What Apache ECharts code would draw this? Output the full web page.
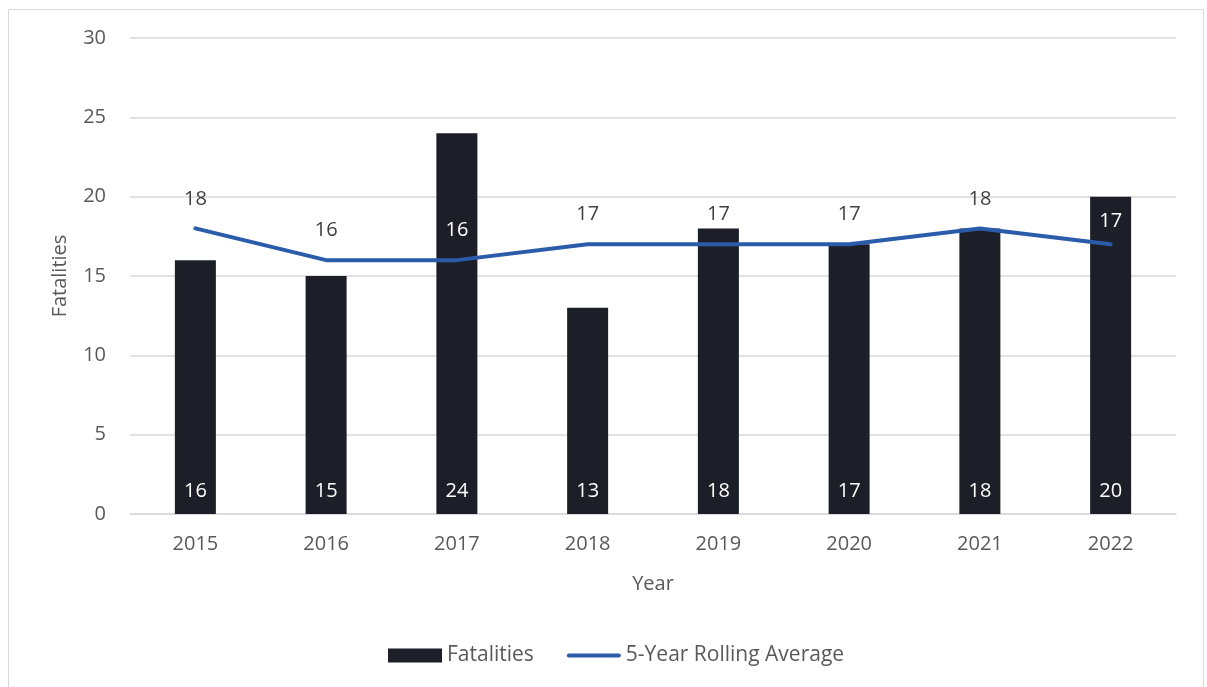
<!DOCTYPE html>
<html>
<head>
<meta charset="utf-8">
<script src="https://cdn.jsdelivr.net/npm/echarts@6/dist/echarts.min.js"></script>
<style>
  html, body { margin: 0; padding: 0; background: #ffffff; }
  #chart { width: 1207px; height: 687px; }
</style>
</head>
<body>
<div id="chart"></div>
<script>
// Annual fatalities with a 5-year rolling average
const years = ['2015', '2016', '2017', '2018', '2019', '2020', '2021', '2022'];
const fatalities = [16, 15, 24, 13, 18, 17, 18, 20];
const rollingAverage = [18, 16, 16, 17, 17, 17, 18, 17];

const FONT = '"Open Sans", "Noto Sans", sans-serif';
const TEXT = '#595959';
const LINE = '#2a5caa';

// average labels that sit over a dark bar are drawn in white
const whiteLabelYears = ['2017', '2022'];
const avgData = rollingAverage.map(function (v, i) {
  const item = { value: v };
  if (whiteLabelYears.indexOf(years[i]) >= 0) {
    item.label = { color: '#ffffff' };
    if (i === years.length - 1) item.label.offset = [0, 7];
  }
  return item;
});

const chart = echarts.init(document.getElementById('chart'), null, { renderer: 'canvas' });
chart.setOption({
  backgroundColor: '#ffffff',
  animation: false,
  textStyle: { fontFamily: FONT },
  graphic: [{
    type: 'rect',
    shape: { x: 8.5, y: 9.5, width: 1195, height: 700 },
    style: { fill: 'none', stroke: '#d9d9d9', lineWidth: 1 },
    silent: true
  }],
  grid: { left: 130, right: 31, top: 38, bottom: 173 },
  legend: {
    bottom: 16,
    left: 383,
    itemWidth: 54,
    itemHeight: 14,
    itemGap: 33,
    symbolKeepAspect: false,
    textStyle: { fontFamily: FONT, fontSize: 21, color: TEXT },
    data: [
      { name: 'Fatalities', icon: 'rect' },
      // thin bar centred in the 14px icon box
      { name: '5-Year Rolling Average', icon: 'path://M0 0M0 14M2 5H52A2 2 0 0 1 52 9H2A2 2 0 0 1 2 5Z', itemStyle: { color: LINE } }
    ]
  },
  xAxis: {
    type: 'category',
    data: years,
    name: 'Year',
    nameLocation: 'middle',
    nameGap: 60,
    nameTextStyle: { fontFamily: FONT, fontSize: 20, color: TEXT },
    axisLine: { lineStyle: { color: '#d9d9d9', width: 1.5 } },
    axisTick: { show: false },
    axisLabel: { fontFamily: FONT, fontSize: 20, color: TEXT, margin: 20 }
  },
  yAxis: {
    type: 'value',
    min: 0,
    max: 30,
    interval: 5,
    name: 'Fatalities',
    nameLocation: 'middle',
    nameGap: 60,
    nameTextStyle: { fontFamily: FONT, fontSize: 20, color: TEXT },
    axisLine: { show: false },
    axisTick: { show: false },
    axisLabel: { fontFamily: FONT, fontSize: 20, color: TEXT, margin: 24 },
    splitLine: { lineStyle: { color: '#d9d9d9', width: 1.5 } }
  },
  series: [
    {
      name: 'Fatalities',
      type: 'bar',
      data: fatalities,
      barWidth: 41,
      itemStyle: { color: '#1c1f28' },
      label: {
        show: true,
        position: 'insideBottom',
        distance: 13,
        color: '#ffffff',
        fontFamily: FONT,
        fontSize: 20
      },
      z: 2
    },
    {
      name: '5-Year Rolling Average',
      type: 'line',
      data: avgData,
      symbol: 'circle',
      symbolSize: 1,
      showSymbol: true,
      lineStyle: { color: LINE, width: 4, cap: 'round' },
      itemStyle: { color: LINE },
      label: {
        show: true,
        position: 'top',
        distance: 19,
        color: '#404040',
        fontFamily: FONT,
        fontSize: 20
      },
      z: 3
    }
  ]
});
</script>
</body>
</html>
